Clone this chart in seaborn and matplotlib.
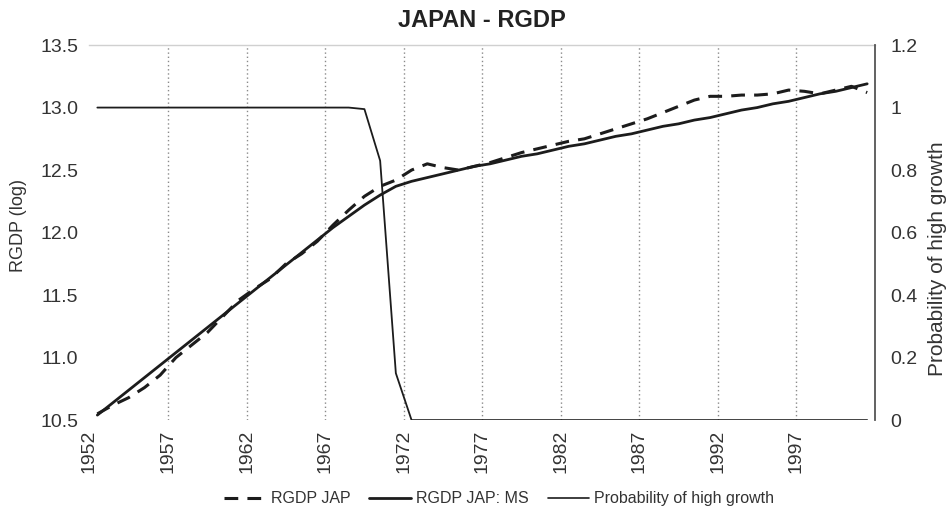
import numpy as np
import pandas as pd
import matplotlib
matplotlib.use('Agg')
import matplotlib.pyplot as plt
import matplotlib.transforms as mtransforms
from matplotlib.lines import Line2D
import seaborn as sns

# Data (annual, 1952-2001)
years = list(range(1952, 2002))

rgdp_jap = [10.55, 10.62, 10.68, 10.76, 10.86, 11.00, 11.10, 11.20, 11.33, 11.46,
            11.55, 11.63, 11.75, 11.83, 11.93, 12.06, 12.18, 12.29, 12.37, 12.42,
            12.50, 12.55, 12.52, 12.50, 12.53, 12.56, 12.60, 12.64, 12.67, 12.70,
            12.73, 12.75, 12.79, 12.83, 12.87, 12.91, 12.96, 13.01, 13.06, 13.09,
            13.09, 13.10, 13.10, 13.11, 13.14, 13.13, 13.11, 13.14, 13.17, 13.12]

rgdp_ms = [10.54, 10.64, 10.74, 10.84, 10.94, 11.04, 11.14, 11.24, 11.34, 11.44,
           11.54, 11.64, 11.74, 11.84, 11.94, 12.04, 12.13, 12.22, 12.30, 12.37,
           12.41, 12.44, 12.47, 12.50, 12.53, 12.55, 12.58, 12.61, 12.63, 12.66,
           12.69, 12.71, 12.74, 12.77, 12.79, 12.82, 12.85, 12.87, 12.90, 12.92,
           12.95, 12.98, 13.00, 13.03, 13.05, 13.08, 13.11, 13.13, 13.16, 13.19]

prob_high = [1.0] * 17 + [0.995, 0.83, 0.15] + [0.0] * 30

grid_years = [1952, 1957, 1962, 1967, 1972, 1977, 1982, 1987, 1992, 1997]
left_ticks = [10.5, 11.0, 11.5, 12.0, 12.5, 13.0, 13.5]
right_ticks = [0, 0.2, 0.4, 0.6, 0.8, 1.0, 1.2]
right_labels = ['0', '0.2', '0.4', '0.6', '0.8', '1', '1.2']

df = pd.DataFrame({'year': years, 'rgdp': rgdp_jap, 'ms': rgdp_ms, 'prob': prob_high})
df['pos'] = df['year'] + 0.5  # values sit mid-year

sns.set_style('white')
plt.rcParams['font.family'] = ['Liberation Sans', 'DejaVu Sans']

ink = '#1c1c1c'
txt = '#333333'

fig = plt.figure(figsize=(9.47, 5.18), dpi=100)
ax = fig.add_axes([0.0945, 0.189, 0.8295, 0.724])
ax2 = ax.twinx()

sns.lineplot(data=df, x='pos', y='rgdp', ax=ax, color=ink, lw=2.2, linestyle=(0, (4.5, 3)))
sns.lineplot(data=df, x='pos', y='ms', ax=ax, color=ink, lw=2.0)
sns.lineplot(data=df, x='pos', y='prob', ax=ax2, color=ink, lw=1.3)

ax.set_xlim(1952, 2002)
ax.set_ylim(10.5, 13.5)
ax2.set_ylim(0, 1.2)

# x axis: dotted vertical grid, labels slightly right of the grid lines
ax.set_xticks(grid_years)
ax.set_xticklabels([str(y) for y in grid_years], rotation=90, fontsize=14, color=txt)
offset = mtransforms.ScaledTranslation(7 / 100, 0, fig.dpi_scale_trans)
for lab in ax.get_xticklabels():
    lab.set_transform(lab.get_transform() + offset)
ax.tick_params(axis='x', length=0, pad=7)
ax.grid(axis='x', linestyle=(0, (1, 2)), color='#8a8a8a', lw=1.0)
ax.get_xgridlines()[0].set_visible(False)

ax.set_yticks(left_ticks)
ax.set_yticklabels([f'{v:.1f}' for v in left_ticks], fontsize=14, color=txt)
ax.tick_params(axis='y', length=0, pad=8)
ax.grid(axis='y', visible=False)

ax2.set_yticks(right_ticks)
ax2.set_yticklabels(right_labels, fontsize=14, color=txt)
ax2.tick_params(axis='y', which='major', length=0, pad=11)
ax2.set_yticks([0.2, 0.4, 0.6], minor=True)
ax2.tick_params(axis='y', which='minor', length=8, width=1.2, direction='inout', color='#444444')
ax2.grid(axis='y', which='minor', linestyle=(0, (3, 1.5, 1, 1.5, 1, 1.5)), color='#3a3a3a', lw=1.0)
ax2.grid(axis='y', which='major', visible=False)

ax.set_xlabel('')
ax.set_ylabel('RGDP (log)', fontsize=13, color=txt)
ax.yaxis.set_label_coords(-0.08, 0.52)
ax2.set_ylabel('Probability of high growth', fontsize=15, color=txt)
ax2.yaxis.set_label_coords(1.068, 0.43)

for s in ['left', 'bottom', 'right']:
    ax.spines[s].set_visible(False)
ax.spines['top'].set_color('#d0d0d0')
ax.spines['top'].set_linewidth(1.0)
for s in ['left', 'bottom', 'top']:
    ax2.spines[s].set_visible(False)
ax2.spines['right'].set_color('#555555')
ax2.spines['right'].set_linewidth(1.3)

ax.set_title('JAPAN - RGDP', fontsize=17, fontweight='bold', color='#222222', pad=13)

handles = [
    Line2D([], [], color=ink, lw=2.2, linestyle=(0, (4.5, 3))),
    Line2D([], [], color=ink, lw=2.0),
    Line2D([], [], color=ink, lw=1.2),
]
fig.legend(handles, ['RGDP JAP', 'RGDP JAP: MS', 'Probability of high growth'],
           loc='lower center', bbox_to_anchor=(0.527, -0.005), ncol=3, frameon=False,
           fontsize=11.5, handlelength=2.6, columnspacing=1.2, handletextpad=0.3,
           labelcolor=txt)

fig.savefig('out.png', dpi=100)
